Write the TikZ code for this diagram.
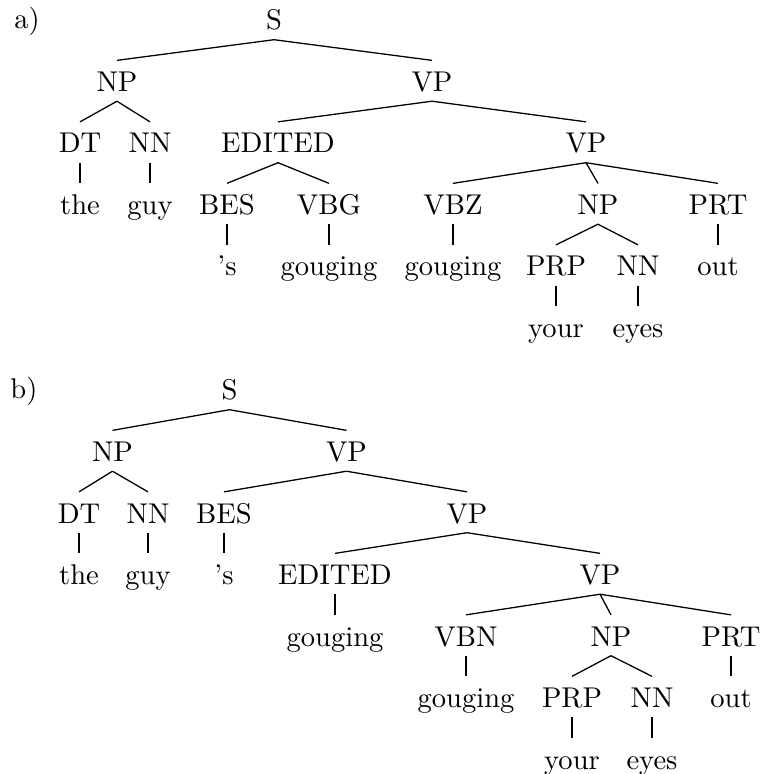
\documentclass[tikz,border=0pt]{standalone}
\begin{document}
\begin{tikzpicture}[x=0.35pt,y=-0.35pt,
  tn/.style={anchor=base, inner xsep=0pt, inner ysep=3.2pt, text height=7.5pt, text depth=0pt},
  lbl/.style={anchor=base, inner sep=0pt},
  br/.style={line width=0.45pt}]
\useasboundingbox (0,0) rectangle (762,774);

% ---------- tree a ----------
\node[lbl] (la) at (27,29) {a)};
\node[tn] (aS)    at (274,30)    {S};
\node[tn] (aNP)   at (117,91.5)  {NP};
\node[tn] (aVP)   at (432,91.5)  {VP};
\node[tn] (aDT)   at (80,153)    {DT};
\node[tn] (aNN)   at (150,153)   {NN};
\node[tn] (aED)   at (278,153)   {EDITED};
\node[tn] (aVPb)  at (586,153)   {VP};
\node[tn] (athe)  at (80,214.5)  {the};
\node[tn] (aguy)  at (150,214.5) {guy};
\node[tn] (aBES)  at (227,214.5) {BES};
\node[tn] (aVBG)  at (329,214.5) {VBG};
\node[tn] (aVBZ)  at (453,214.5) {VBZ};
\node[tn] (aNPb)  at (598,214.5) {NP};
\node[tn] (aPRT)  at (718,214.5) {PRT};
\node[tn] (as)    at (227,276)   {'s};
\node[tn] (agA)   at (329,276)   {gouging};
\node[tn] (agB)   at (453,276)   {gouging};
\node[tn] (aPRP)  at (556,276)   {PRP};
\node[tn] (aNNb)  at (638,276)   {NN};
\node[tn] (aout)  at (718,276)   {out};
\node[tn] (ayour) at (556,337.5) {your};
\node[tn] (aeyes) at (638,337.5) {eyes};

\foreach \p/\c in {aS/aNP, aS/aVP, aNP/aDT, aNP/aNN, aVP/aED, aVP/aVPb,
                   aDT/athe, aNN/aguy, aED/aBES, aED/aVBG,
                   aVPb/aVBZ, aVPb/aNPb, aVPb/aPRT,
                   aBES/as, aVBG/agA, aVBZ/agB, aNPb/aPRP, aNPb/aNNb, aPRT/aout,
                   aPRP/ayour, aNNb/aeyes}
  \draw[br] (\p.south) -- (\c.north);

% ---------- tree b ----------
\node[lbl] (lb) at (24,398) {b)};
\node[tn] (bS)    at (229.5,400) {S};
\node[tn] (bNP)   at (112.5,461.5) {NP};
\node[tn] (bVP)   at (346.5,461.5) {VP};
\node[tn] (bDT)   at (79,523)    {DT};
\node[tn] (bNN)   at (148,523)   {NN};
\node[tn] (bBES)  at (224,523)   {BES};
\node[tn] (bVPb)  at (467,523)   {VP};
\node[tn] (bthe)  at (79,584.5)  {the};
\node[tn] (bguy)  at (148,584.5) {guy};
\node[tn] (bs)    at (224,584.5) {'s};
\node[tn] (bED)   at (335,584.5) {EDITED};
\node[tn] (bVPc)  at (600,584.5) {VP};
\node[tn] (bgA)   at (335,646)   {gouging};
\node[tn] (bVBN)  at (466,646)   {VBN};
\node[tn] (bNPb)  at (611,646)   {NP};
\node[tn] (bPRT)  at (731,646)   {PRT};
\node[tn] (bgB)   at (466,707.5) {gouging};
\node[tn] (bPRP)  at (572,707.5) {PRP};
\node[tn] (bNNb)  at (652,707.5) {NN};
\node[tn] (bout)  at (731,707.5) {out};
\node[tn] (byour) at (572,769)   {your};
\node[tn] (beyes) at (652,769)   {eyes};

\foreach \p/\c in {bS/bNP, bS/bVP, bNP/bDT, bNP/bNN, bVP/bBES, bVP/bVPb,
                   bDT/bthe, bNN/bguy, bBES/bs, bVPb/bED, bVPb/bVPc,
                   bED/bgA, bVPc/bVBN, bVPc/bNPb, bVPc/bPRT,
                   bVBN/bgB, bNPb/bPRP, bNPb/bNNb, bPRT/bout,
                   bPRP/byour, bNNb/beyes}
  \draw[br] (\p.south) -- (\c.north);
\end{tikzpicture}
\end{document}
